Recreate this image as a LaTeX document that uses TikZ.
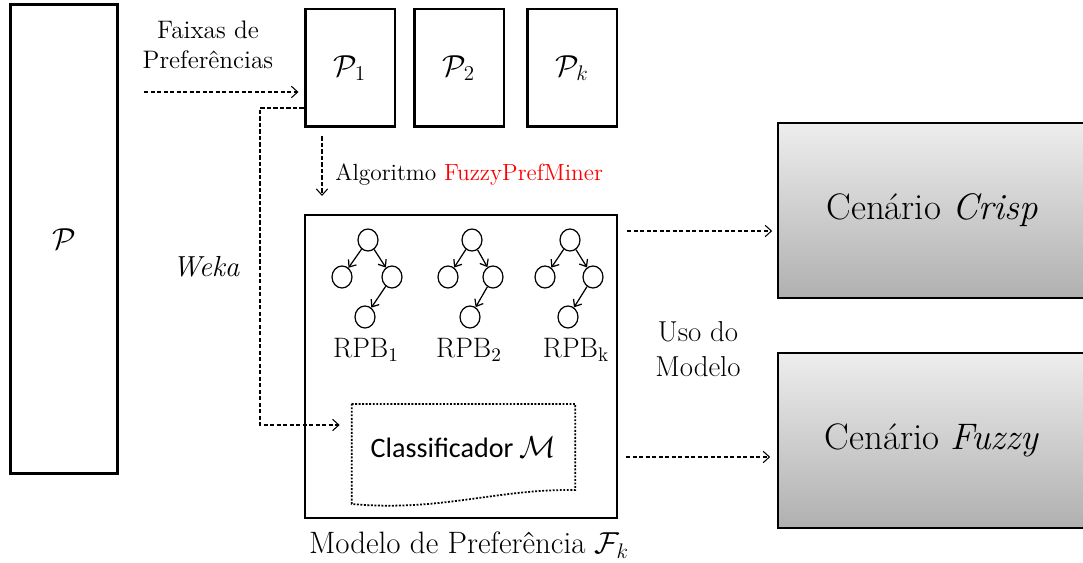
\documentclass[tikz,border=0pt]{standalone}
\usepackage{fontspec}
\newfontfamily\calibri{Carlito}
\usetikzlibrary{arrows.meta,shapes.geometric,calc}
\begin{document}
\begin{tikzpicture}[x=0.02cm,y=-0.02cm,
  box/.style={draw,line width=1.7pt,inner sep=0pt},
  modelbox/.style={draw,line width=1.2pt,inner sep=0pt},
  scen/.style={draw,line width=0.9pt,inner sep=0pt,top color=black!7,bottom color=black!31,
    font=\fontsize{21}{26}\selectfont},
  link/.style={line width=0.6pt,dash pattern=on 2.3pt off 1.4pt,-{Straight Barb[length=3.6pt,width=6.5pt]}},
  node circ/.style={draw,ellipse,line width=0.7pt,minimum width=0.4cm,minimum height=0.44cm,inner sep=0pt},
  edge arr/.style={line width=0.7pt,-{Straight Barb[length=3.4pt,width=5.5pt]}},
  lbl/.style={font=\fontsize{14.4}{17}\selectfont,align=center,inner sep=0pt},
  rpb/.style={font=\fontsize{16}{19}\selectfont,inner sep=0pt}
]
\useasboundingbox (0,0) rectangle (1083,563);

% data set and its preference ranges
\node[box,minimum width=2.16cm,minimum height=9.4cm,font=\fontsize{16}{18}\selectfont] (P) at (64,239) {$\mathcal{P}$};
\node[box,minimum width=1.8cm,minimum height=2.36cm,font=\fontsize{16.5}{18}\selectfont] (P1) at (350,68) {$\mathcal{P}_1$};
\node[box,minimum width=1.8cm,minimum height=2.36cm,font=\fontsize{16.5}{18}\selectfont] (P2) at (459,68) {$\mathcal{P}_2$};
\node[box,minimum width=1.8cm,minimum height=2.36cm,font=\fontsize{16.5}{18}\selectfont] (Pk) at (572,68) {$\mathcal{P}_k$};

\node[lbl] (faixas) at (208,45) {Faixas de\\Preferências};
\node[lbl,anchor=west,font=\fontsize{13.3}{16}\selectfont] (alg) at (335,175) {Algoritmo \textcolor{red}{FuzzyPrefMiner}};
\node[lbl,font=\fontsize{16.5}{19}\selectfont\itshape] (weka) at (206,267) {Weka};

% preference model
\node[modelbox,minimum width=6.24cm,minimum height=6.06cm] (model) at (461,366.5) {};
\node[font=\fontsize{17.6}{20}\selectfont,inner sep=0pt] (mlabel) at (469,545) {Modelo de Preferência $\mathcal{F}_k$};

% three Bayesian preference networks
\foreach \i/\tx/\lx/\rx/\bx in {1/368/342/392/365,2/472/448/493/470,3/570/545/593/568}{
  \node[node circ] (t\i) at (\tx,240) {};
  \node[node circ] (l\i) at (\lx,277) {};
  \node[node circ] (r\i) at (\rx,277) {};
  \node[node circ] (b\i) at (\bx,317) {};
  \draw[edge arr] (t\i) -- (l\i);
  \draw[edge arr] (t\i) -- (r\i);
  \draw[edge arr] (r\i) -- (b\i);
}
\node[rpb] (rpb1) at (366,350) {RPB$_{1}$};
\node[rpb] (rpb2) at (469,350) {RPB$_{2}$};
\node[rpb] (rpbk) at (576,350) {RPB$_{\mathrm{k}}$};

% classifier (document-shaped dotted outline)
\node[inner sep=0pt,minimum width=4.46cm,minimum height=1.72cm,font=\calibri\fontsize{16}{19}\selectfont] (cls) at (463.5,447) {Classificador $\mathcal{M}$};
\draw[line width=1pt,dash pattern=on 1.1pt off 0.9pt]
  (cls.west |- 0,404) -- (cls.east |- 0,404) -- (cls.east |- 0,490)
  .. controls (495,489) and (440,512) .. (cls.west |- 0,504) -- cycle;

% usage scenarios
\node[scen,minimum width=6.16cm,minimum height=3.5cm] (crisp) at (932,210.5) {Cenário \textit{Crisp}};
\node[scen,minimum width=6.16cm,minimum height=3.5cm] (fuzzy) at (932,440.5) {Cenário \textit{Fuzzy}};
\node[lbl,font=\fontsize{16.4}{19.5}\selectfont] (uso) at (698,349) {Uso do\\Modelo};

% connectors
\coordinate (fstart) at (144,92);
\draw[link,shorten >=0.1cm] (fstart) -- (P1.west |- fstart);

\coordinate (wtop) at (260,108);
\coordinate (wbot) at (260,425);
\draw[link,shorten >=0.24cm] (P1.west |- wtop) -- (wtop) -- (wbot) -- (cls.west |- wbot);

\coordinate (adown) at (322,0);
\draw[link,shorten <=0.16cm,shorten >=0.36cm] (P1.south -| adown) -- (model.north -| adown);

\coordinate (ycr) at (0,231);
\coordinate (yfz) at (0,457);
\draw[link,shorten <=0.18cm,shorten >=0.1cm] (model.east |- ycr) -- (crisp.west |- ycr);
\draw[link,shorten <=0.16cm,shorten >=0.14cm] (model.east |- yfz) -- (fuzzy.west |- yfz);
\end{tikzpicture}
\end{document}
